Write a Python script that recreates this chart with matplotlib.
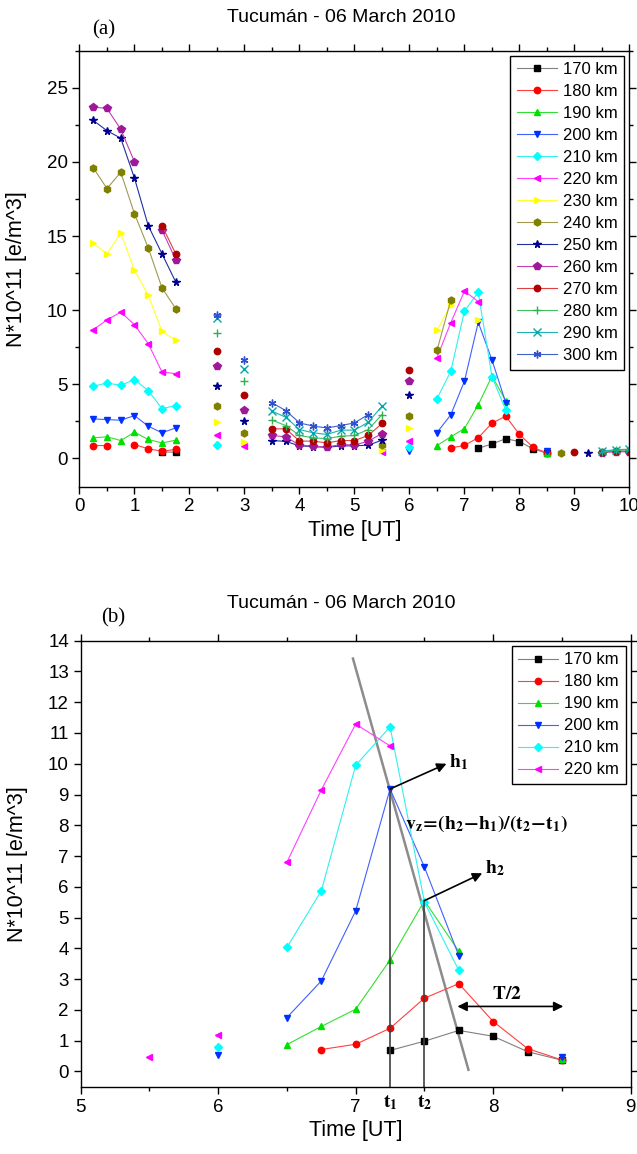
import numpy as np
import matplotlib
matplotlib.use("Agg")
import matplotlib.pyplot as plt
import matplotlib.transforms as mtransforms
from matplotlib.ticker import MultipleLocator

plt.rcParams['font.family'] = ['Liberation Sans', 'DejaVu Sans']
plt.rcParams['mathtext.fontset'] = 'stix'

TITLE = "Tucumán - 06 March 2010"

# N*10^11 [e/m^3], per altitude: UT times and values
t170 = [1.5, 1.75, 7.25, 7.5, 7.75, 8.0, 8.25, 8.5]
n170 = [0.43, 0.43, 0.68, 0.98, 1.33, 1.14, 0.64, 0.36]

t180 = [0.25, 0.5, 1.0, 1.25, 1.5, 1.75, 6.75, 7.0, 7.25, 7.5, 7.75, 8.0, 8.25, 8.5]
n180 = [0.87, 0.87, 0.94, 0.65, 0.49, 0.61, 0.71, 0.88, 1.40, 2.38, 2.85, 1.62, 0.74, 0.37]

t190 = [0.25, 0.5, 0.75, 1.0, 1.25, 1.5, 1.75, 6.5, 6.75, 7.0, 7.25, 7.5, 7.75, 8.5]
n190 = [1.39, 1.46, 1.21, 1.77, 1.28, 1.05, 1.23, 0.87, 1.46, 2.02, 3.62, 5.55, 3.90, 0.40]

t200 = [0.25, 0.5, 0.75, 1.0, 1.25, 1.5, 1.75, 6.0, 6.5, 6.75, 7.0, 7.25, 7.5, 7.75, 8.5]
n200 = [2.67, 2.62, 2.58, 2.89, 2.18, 1.73, 2.06, 0.53, 1.75, 2.94, 5.22, 9.18, 6.64, 3.76, 0.48]

t210 = [0.25, 0.5, 0.75, 1.0, 1.25, 1.5, 1.75, 2.5, 6.0, 6.5, 6.75, 7.0, 7.25, 7.5, 7.75]
n210 = [4.87, 5.09, 4.93, 5.32, 4.58, 3.36, 3.57, 0.94, 0.80, 4.03, 5.87, 9.95, 11.20, 5.50, 3.28]

t220 = [0.25, 0.5, 0.75, 1.0, 1.25, 1.5, 1.75, 2.5, 3.0, 5.5, 6.0, 6.5, 6.75, 7.0, 7.25]
n220 = [8.68, 9.35, 9.87, 9.02, 7.74, 5.83, 5.72, 1.57, 0.83, 0.45, 1.19, 6.80, 9.15, 11.29, 10.58]

t230 = [0.25, 0.5, 0.75, 1.0, 1.25, 1.5, 1.75, 2.5, 3.0, 5.5, 6.0, 6.5, 6.75, 7.25]
n230 = [14.5, 13.8, 15.2, 12.7, 11.0, 8.57, 7.96, 2.44, 1.12, 0.56, 2.04, 8.64, 10.36, 9.35]

t240 = [0.25, 0.5, 0.75, 1.0, 1.25, 1.5, 1.75, 2.5, 3.0, 5.5, 6.0, 6.5, 6.75, 8.75]
n240 = [19.6, 18.2, 19.3, 16.5, 14.2, 11.5, 10.1, 3.57, 1.73, 0.90, 2.85, 7.29, 10.66, 0.38]

t250 = [0.25, 0.5, 0.75, 1.0, 1.25, 1.5, 1.75, 2.5, 3.0,
        3.5, 3.75, 4.0, 4.25, 4.5, 4.75, 5.0, 5.25, 5.5, 6.0, 9.25]
n250 = [22.8, 22.1, 21.6, 18.9, 15.7, 13.8, 11.9, 4.87, 2.56,
        1.21, 1.15, 0.85, 0.80, 0.75, 0.85, 0.85, 0.90, 1.23, 4.31, 0.35]

t260 = [0.25, 0.5, 0.75, 1.0, 1.5, 1.75, 2.5, 3.0,
        3.5, 3.75, 4.0, 4.25, 4.5, 4.75, 5.0, 5.25, 5.5, 6.0, 9.5, 9.75, 10.0]
n260 = [23.7, 23.6, 22.2, 20.0, 15.4, 13.4, 6.21, 3.25,
        1.55, 1.46, 0.90, 0.83, 0.76, 0.95, 0.90, 1.17, 1.68, 5.25, 0.40, 0.45, 0.45]

t270 = [1.5, 1.75, 2.5, 3.0, 3.5, 3.75, 4.0, 4.25, 4.5, 4.75, 5.0, 5.25, 5.5, 6.0,
        9.0, 9.5, 9.75, 10.0]
n270 = [15.7, 13.8, 7.27, 4.26, 2.00, 2.00, 1.17, 1.17, 1.05, 1.21, 1.21, 1.55, 2.36, 5.94,
        0.42, 0.42, 0.50, 0.50]

t280 = [2.5, 3.0, 3.5, 3.75, 4.0, 4.25, 4.5, 4.75, 5.0, 5.25, 5.5, 9.5, 9.75, 10.0]
n280 = [8.46, 5.20, 2.58, 2.22, 1.55, 1.39, 1.34, 1.50, 1.55, 1.95, 2.96, 0.45, 0.55, 0.60]

t290 = [2.5, 3.0, 3.5, 3.75, 4.0, 4.25, 4.5, 4.75, 5.0, 5.25, 5.5, 9.5, 9.75, 10.0]
n290 = [9.47, 6.03, 3.19, 2.78, 1.95, 1.73, 1.62, 1.91, 1.91, 2.45, 3.52, 0.48, 0.60, 0.62]

t300 = [2.5, 3.0, 3.5, 3.75, 4.0, 4.25, 4.5, 4.75, 5.0, 5.25]
n300 = [9.69, 6.66, 3.75, 3.23, 2.40, 2.18, 2.06, 2.22, 2.40, 2.96]

altitudes = [170, 180, 190, 200, 210, 220, 230, 240, 250, 260, 270, 280, 290, 300]
times = [t170, t180, t190, t200, t210, t220, t230, t240, t250, t260, t270, t280, t290, t300]
values = [n170, n180, n190, n200, n210, n220, n230, n240, n250, n260, n270, n280, n290, n300]

colors = ['#000000', '#ff0000', '#00e000', '#0030ff', '#00ffff', '#ff00ff', '#ffff00',
          '#808000', '#000090', '#a0189a', '#b00000', '#30b050', '#00a8a8', '#3050d0']
line_colors = ['#808080', '#ff4040', '#30e030', '#4060ff', '#30f0f0', '#ff40ff', '#ffff30',
               '#a09a50', '#2030a0', '#c040b0', '#e04040', '#40c060', '#20b0b0', '#4060c8']
markers = ['s', 'o', '^', 'v', 'D', '<', '>', 'h', '*', 'p', 'o', '+', 'x', (6, 2, 0)]
msizes = [4, 4.6, 5, 5, 4.2, 5, 5, 5, 5.6, 5.4, 4.6, 5.6, 5.6, 5.6]

# 15 min sampling grid; gaps become NaN so lines break like in the original
UT = np.arange(1, 41) * 0.25


def on_grid(t, n):
    y = np.full(UT.size, np.nan)
    idx = np.rint(np.asarray(t) / 0.25).astype(int) - 1
    y[idx] = n
    return y


def draw_series(ax, which):
    for k in which:
        y = on_grid(times[k], values[k])
        ax.plot(UT, y, color=line_colors[k], lw=0.8, marker=markers[k],
                ms=msizes[k], mfc=colors[k], mec=colors[k], mew=1.0,
                label=f"{altitudes[k]} km")


def style_axes(ax):
    ax.tick_params(which='both', direction='out', length=5, width=1, labelsize=13.5,
                   top=True, right=True)
    ax.tick_params(which='minor', length=3)
    for s in ax.spines.values():
        s.set_linewidth(1.0)


def add_legend(ax):
    leg = ax.legend(loc='upper right', fontsize=12, fancybox=False, edgecolor='black',
                    framealpha=1, handlelength=2.4, handletextpad=0.35,
                    labelspacing=0.42, borderaxespad=0.3, borderpad=0.4)
    leg.get_frame().set_linewidth(1.0)


fig = plt.figure(figsize=(6.37, 11.54), dpi=100)

# ---- panel (a)
ax1 = fig.add_axes([0.1248, 0.5783, 0.8634, 0.3778])
draw_series(ax1, range(14))
ax1.set_xlim(0, 10)
ax1.set_ylim(-1.9, 27.5)
ax1.xaxis.set_major_locator(MultipleLocator(1))
ax1.xaxis.set_minor_locator(MultipleLocator(0.5))
ax1.yaxis.set_major_locator(MultipleLocator(5))
ax1.yaxis.set_minor_locator(MultipleLocator(2.5))
style_axes(ax1)
ax1.set_xlabel("Time [UT]", fontsize=15.5, labelpad=3)
ax1.set_ylabel("N*10^11 [e/m^3]", fontsize=15.5)
ax1.yaxis.set_label_coords(-0.095, 0.5)
add_legend(ax1)
fig.text(0.535, 1 - 18 / 1154, TITLE, ha='center', va='center', fontsize=14)
fig.text(104 / 637, 1 - 30 / 1154, "(a)", ha='center', va='center', fontsize=15,
         family=['Liberation Serif', 'DejaVu Serif'])

# ---- panel (b)
ax2 = fig.add_axes([0.1267, 0.0583, 0.8634, 0.3865])
draw_series(ax2, range(6))
ax2.set_xlim(5, 9)
ax2.set_ylim(-0.5, 14)
ax2.xaxis.set_major_locator(MultipleLocator(1))
ax2.xaxis.set_minor_locator(MultipleLocator(0.5))
ax2.yaxis.set_major_locator(MultipleLocator(1))
style_axes(ax2)
ax2.set_xlabel("Time [UT]", fontsize=15.5, labelpad=3)
ax2.set_ylabel("N*10^11 [e/m^3]", fontsize=15.5)
ax2.yaxis.set_label_coords(-0.095, 0.5)
add_legend(ax2)
fig.text(0.535, 1 - 604 / 1154, TITLE, ha='center', va='center', fontsize=14)
fig.text(113 / 637, 1 - 618 / 1154, "(b)", ha='center', va='center', fontsize=15,
         family=['Liberation Serif', 'DejaVu Serif'])

# descent line through the peaks
ax2.plot([6.98, 7.82], [13.42, 0.05], color='#8c8c8c', lw=1.8, zorder=1)
t1, t2 = 7.25, 7.5
h1, h2 = n200[t200.index(t1)], n190[t190.index(t2)]
ax2.plot([t1, t1], [-0.5, h1], color='#404040', lw=1.2)
ax2.plot([t2, t2], [-0.5, h2], color='#404040', lw=1.2)

bold_serif = dict(fontsize=14, fontweight='bold')
ax2.annotate('', xy=(7.66, 10.0), xytext=(t1, h1),
             arrowprops=dict(arrowstyle='-|>', color='k', lw=1.2, shrinkA=0, shrinkB=0,
                             mutation_scale=14))
ax2.text(7.68, 10.05, r'$\mathbf{h_1}$', ha='left', va='center', **bold_serif)
ax2.annotate('', xy=(7.92, 6.44), xytext=(t2, h2),
             arrowprops=dict(arrowstyle='-|>', color='k', lw=1.2, shrinkA=0, shrinkB=0,
                             mutation_scale=14))
ax2.text(7.94, 6.6, r'$\mathbf{h_2}$', ha='left', va='center', **bold_serif)
ax2.text(7.36, 8.05, r'$\mathbf{v_z\!=\!(h_2\!-\!h_1)/(t_2\!-\!t_1)}$', ha='left',
         va='center', **bold_serif)
ax2.annotate('', xy=(8.51, 2.11), xytext=(7.74, 2.11),
             arrowprops=dict(arrowstyle='<|-|>', color='k', lw=1.2, shrinkA=0, shrinkB=0,
                             mutation_scale=14))
ax2.text(8.10, 2.5, r'$\mathbf{T/2}$', ha='center', va='center', **bold_serif)

trans = mtransforms.blended_transform_factory(ax2.transData, ax2.transAxes)
ax2.text(t1, -0.036, r'$\mathbf{t_1}$', transform=trans, ha='center', va='center',
         **bold_serif)
ax2.text(t2, -0.036, r'$\mathbf{t_2}$', transform=trans, ha='center', va='center',
         **bold_serif)

fig.savefig("out.png", dpi=100)
